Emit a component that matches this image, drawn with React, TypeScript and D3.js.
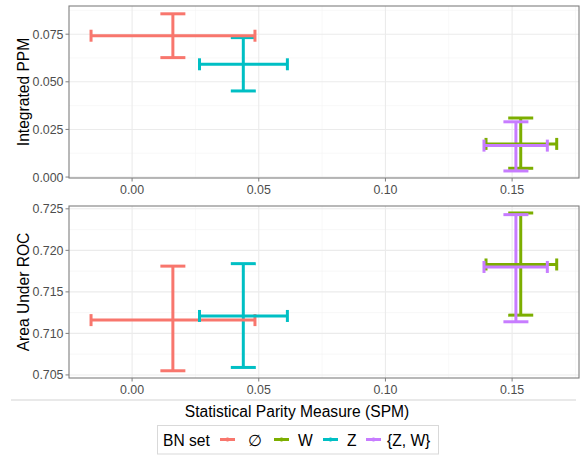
import { scaleLinear, range } from 'd3';

const W = 581;
const H = 456;

// BN sets, in factor order
const groups = ['∅', 'W', 'Z', '{Z, W}'];
const colors = ['#F8766D', '#7CAE00', '#00BFC4', '#C77CFF'];

// statistical parity measure (x), shared by both panels
const spmMean = [0.0161, 0.1534, 0.0439, 0.1515];
const spmLow = [-0.0162, 0.1397, 0.0266, 0.1389];
const spmHigh = [0.0485, 0.1676, 0.0613, 0.1639];

// integrated PPM (top panel)
const ppmMean = [0.0742, 0.0174, 0.0592, 0.0165];
const ppmLow = [0.0627, 0.0046, 0.0452, 0.0032];
const ppmHigh = [0.0857, 0.031, 0.0732, 0.029];

// area under ROC (bottom panel)
const aucMean = [0.7116, 0.7183, 0.7121, 0.718];
const aucLow = [0.7055, 0.7122, 0.7059, 0.7114];
const aucHigh = [0.7181, 0.7245, 0.7184, 0.7243];

const xTicks = [0.0, 0.05, 0.1, 0.15];
const ppmTicks = [0.0, 0.025, 0.05, 0.075];
const aucTicks = [0.705, 0.71, 0.715, 0.72, 0.725];

const left = 69;
const right = 579;
const font = 'Liberation Sans, Arial, sans-serif';

const x = scaleLinear().domain([-0.0249, 0.1764]).range([left, right]);

function Panel({ top, bottom, y, ticks, fmt, title, mean, low, high }) {
  const minorX = range(-0.025, 0.2, 0.05).filter((v) => x(v) > left && x(v) < right);
  const step = ticks[1] - ticks[0];
  const minorY = range(ticks[0] - step / 2, ticks[ticks.length - 1] + step, step).filter(
    (v) => y(v) > top && y(v) < bottom
  );
  const capW = 12.5;
  const capH = 6;
  return (
    <g>
      <rect x={left} y={top} width={right - left} height={bottom - top} fill="white" />
      {minorX.map((v) => (
        <line key={'mx' + v} x1={x(v)} x2={x(v)} y1={top} y2={bottom} stroke="#f4f4f4" strokeWidth={0.6} />
      ))}
      {minorY.map((v) => (
        <line key={'my' + v} x1={left} x2={right} y1={y(v)} y2={y(v)} stroke="#f4f4f4" strokeWidth={0.6} />
      ))}
      {xTicks.map((v) => (
        <line key={'gx' + v} x1={x(v)} x2={x(v)} y1={top} y2={bottom} stroke="#ebebeb" strokeWidth={1.1} />
      ))}
      {ticks.map((v) => (
        <line key={'gy' + v} x1={left} x2={right} y1={y(v)} y2={y(v)} stroke="#ebebeb" strokeWidth={1.1} />
      ))}
      {groups.map((g, i) => (
        <g key={g} stroke={colors[i]} strokeWidth={3} fill="none">
          <line x1={x(spmMean[i])} x2={x(spmMean[i])} y1={y(low[i])} y2={y(high[i])} />
          <line x1={x(spmMean[i]) - capW} x2={x(spmMean[i]) + capW} y1={y(low[i])} y2={y(low[i])} />
          <line x1={x(spmMean[i]) - capW} x2={x(spmMean[i]) + capW} y1={y(high[i])} y2={y(high[i])} />
        </g>
      ))}
      {groups.map((g, i) => (
        <g key={'h' + g} stroke={colors[i]} strokeWidth={3} fill="none">
          <line x1={x(spmLow[i])} x2={x(spmHigh[i])} y1={y(mean[i])} y2={y(mean[i])} />
          <line x1={x(spmLow[i])} x2={x(spmLow[i])} y1={y(mean[i]) - capH} y2={y(mean[i]) + capH} />
          <line x1={x(spmHigh[i])} x2={x(spmHigh[i])} y1={y(mean[i]) - capH} y2={y(mean[i]) + capH} />
        </g>
      ))}
      <rect x={left} y={top} width={right - left} height={bottom - top} fill="none" stroke="#7f7f7f" strokeWidth={1.1} />
      {ticks.map((v) => (
        <g key={'ty' + v}>
          <line x1={left - 3.5} x2={left} y1={y(v)} y2={y(v)} stroke="#7f7f7f" strokeWidth={1} />
          <text x={left - 5.5} y={y(v)} dy="0.36em" textAnchor="end" fontSize={12.4} fill="#4d4d4d">
            {fmt(v)}
          </text>
        </g>
      ))}
      {xTicks.map((v) => (
        <g key={'tx' + v}>
          <line x1={x(v)} x2={x(v)} y1={bottom} y2={bottom + 3.5} stroke="#7f7f7f" strokeWidth={1} />
          <text x={x(v)} y={bottom + 15.5} textAnchor="middle" fontSize={12.4} fill="#4d4d4d">
            {v.toFixed(2)}
          </text>
        </g>
      ))}
      <text
        transform={`translate(29, ${(top + bottom) / 2}) rotate(-90)`}
        textAnchor="middle"
        fontSize={15.6}
        fill="black"
      >
        {title}
      </text>
    </g>
  );
}

export default function App() {
  const yPpm = scaleLinear().domain([-0.0005, 0.0898]).range([178, 6]);
  const yAuc = scaleLinear().domain([0.70463, 0.72534]).range([378, 206]);

  const keyX = [220, 274, 323, 366];
  const labelX = [248, 298, 347, 387];

  return (
    <svg
      width={W}
      height={H}
      style={{ position: 'absolute', left: 0, top: 0, fontFamily: font }}
    >
      <rect width={W} height={H} fill="white" />
      <Panel
        top={6}
        bottom={178}
        y={yPpm}
        ticks={ppmTicks}
        fmt={(v) => v.toFixed(3)}
        title="Integrated PPM"
        mean={ppmMean}
        low={ppmLow}
        high={ppmHigh}
      />
      <Panel
        top={206}
        bottom={378}
        y={yAuc}
        ticks={aucTicks}
        fmt={(v) => v.toFixed(3)}
        title="Area Under ROC"
        mean={aucMean}
        low={aucLow}
        high={aucHigh}
      />
      <line x1={11} x2={576} y1={400} y2={400} stroke="#d3d3d3" strokeWidth={1} />
      <text x={297} y={416.5} textAnchor="middle" fontSize={15.6} fill="black">
        Statistical Parity Measure (SPM)
      </text>
      <rect x={157.5} y={425.5} width={281} height={28.5} fill="white" stroke="#d9d9d9" strokeWidth={1} />
      <text x={163} y={445.5} fontSize={15.6} fill="black">
        BN set
      </text>
      {groups.map((g, i) => (
        <g key={'lg' + g}>
          <line x1={keyX[i]} x2={keyX[i] + 15} y1={439.5} y2={439.5} stroke={colors[i]} strokeWidth={3} />
          <line x1={keyX[i] + 7.5} x2={keyX[i] + 7.5} y1={437.5} y2={441.5} stroke={colors[i]} strokeWidth={2} />
          <text x={labelX[i]} y={445.5} fontSize={15.6} fill="black" fontWeight={g === '∅' ? 300 : 400}>
            {g}
          </text>
        </g>
      ))}
    </svg>
  );
}
